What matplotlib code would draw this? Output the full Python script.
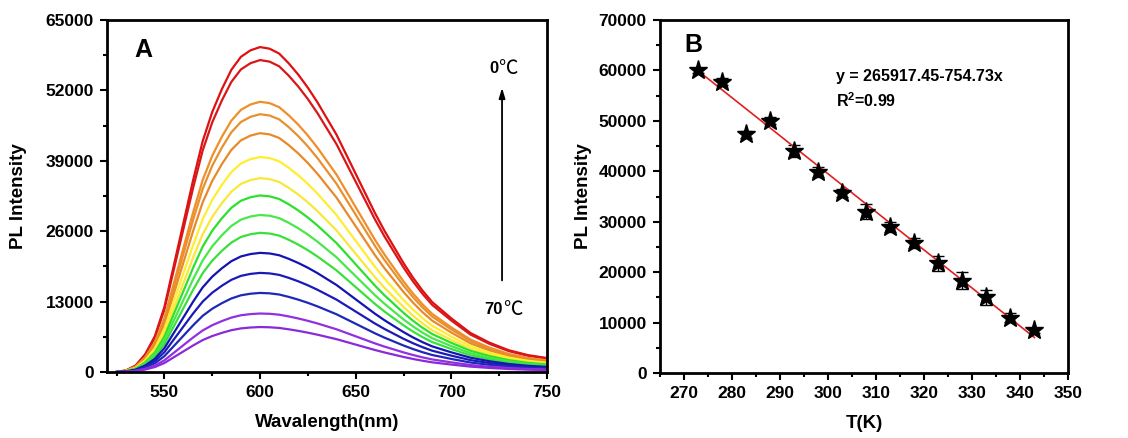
import matplotlib
matplotlib.use("Agg")
import matplotlib.pyplot as plt
import numpy as np
from matplotlib.ticker import MultipleLocator

plt.rcParams['font.family'] = ['Liberation Sans', 'DejaVu Sans']
plt.rcParams['font.weight'] = 'bold'
plt.rcParams['mathtext.fontset'] = 'custom'
plt.rcParams['mathtext.rm'] = 'Liberation Sans'
plt.rcParams['mathtext.bf'] = 'Liberation Sans:bold'

# ---------------- Panel A data ----------------
wavelength = [525, 530, 535, 540, 545, 550, 555, 560, 565, 570, 575, 580, 585, 590,
              595, 600, 605, 610, 615, 620, 625, 630, 635, 640, 645, 650, 655, 660,
              665, 670, 675, 680, 685, 690, 695, 700, 710, 720, 730, 740, 750]
profile = [0.0, 0.005, 0.02, 0.055, 0.11, 0.20, 0.33, 0.46, 0.59, 0.71, 0.80, 0.87,
           0.93, 0.97, 0.99, 1.0, 0.995, 0.98, 0.95, 0.915, 0.875, 0.83, 0.78, 0.73,
           0.67, 0.61, 0.55, 0.49, 0.435, 0.385, 0.335, 0.29, 0.25, 0.215, 0.19,
           0.165, 0.12, 0.09, 0.067, 0.052, 0.043]
peak_intensity = [60000, 57600, 49900, 47600, 44100, 39700, 35800, 32600, 29000,
                  25700, 22000, 18300, 14600, 10800, 8300]
curve_colors = ['#e01010', '#d81818', '#f08e2a', '#e8902e', '#e88a28', '#ffee30',
                '#f8e838', '#2ee02e', '#48e848', '#3ae03a', '#1414b4', '#1a1ab8',
                '#1e28b8', '#9030e0', '#8a2ad8']

# ---------------- Panel B data ----------------
temperature_K = [273, 278, 283, 288, 293, 298, 303, 308, 313, 318, 323, 328, 333, 338, 343]
pl_intensity = [60000, 57800, 47300, 50000, 44000, 39800, 35700, 32000, 28900, 25700,
                21800, 18300, 15000, 11000, 8500]
pl_error = [500, 600, 700, 700, 1200, 1000, 800, 1500, 1000, 1000, 1500, 1700, 1500,
            800, 500]
fit_intercept = 265917.45
fit_slope = -754.73

fig = plt.figure(figsize=(11.28, 4.38), dpi=100)
axA = fig.add_axes([107/1128, 66/438, 440/1128, 352/438])
axB = fig.add_axes([660/1128, 65/438, 408/1128, 353/438])

def style(ax):
    for s in ax.spines.values():
        s.set_linewidth(2.0)
    ax.tick_params(which='both', direction='out', width=1.5, top=False, right=False,
                   labelsize=12.5, pad=4.5)
    ax.tick_params(which='major', length=5)
    ax.tick_params(which='minor', length=3)
    for lab in ax.get_xticklabels() + ax.get_yticklabels():
        lab.set_fontweight('bold')

# Panel A
wl = np.array(wavelength)
prof = np.array(profile)
for pk, c in zip(peak_intensity, curve_colors):
    axA.plot(wl, prof * pk, color=c, lw=1.6)
axA.set_xlim(520, 750)
axA.set_ylim(0, 65000)
axA.xaxis.set_major_locator(MultipleLocator(50))
axA.xaxis.set_minor_locator(MultipleLocator(25))
axA.yaxis.set_major_locator(MultipleLocator(13000))
axA.yaxis.set_minor_locator(MultipleLocator(6500))
style(axA)
axA.set_xlabel('Wavalength(nm)', fontsize=13.5, fontweight='bold', labelpad=10)
axA.set_ylabel('PL Intensity', fontsize=13.5, fontweight='bold', labelpad=13)
axA.text(538.8, 59500, 'A', fontsize=18, fontweight='bold', ha='center', va='center')
axA.annotate('', xy=(726.5, 53000), xytext=(726.5, 16400),
             arrowprops=dict(arrowstyle='-|>,head_length=0.6,head_width=0.18',
                             color='black', lw=1.3))
axA.text(724.6, 56000, '0', fontsize=12, fontweight='bold', ha='right', va='center')
axA.text(724.6, 56000, '℃', fontsize=14, fontweight='normal', ha='left', va='center',
         family=['Noto Sans CJK SC', 'DejaVu Sans'])
axA.text(727.0, 11450, '70', fontsize=12, fontweight='bold', ha='right', va='center')
axA.text(727.0, 11450, '℃', fontsize=14, fontweight='normal', ha='left', va='center',
         family=['Noto Sans CJK SC', 'DejaVu Sans'])

# Panel B
T = np.array(temperature_K)
axB.errorbar(T, pl_intensity, yerr=pl_error, fmt='none', ecolor='black',
             elinewidth=1.0, capsize=4, capthick=1.0)
axB.plot(T, fit_intercept + fit_slope * T, color='#e02020', lw=1.2)
axB.plot(T, pl_intensity, ls='none', marker='*', ms=14, color='black', zorder=5)
axB.set_xlim(265, 350)
axB.set_ylim(0, 70000)
axB.xaxis.set_major_locator(MultipleLocator(10))
axB.xaxis.set_minor_locator(MultipleLocator(5))
axB.yaxis.set_major_locator(MultipleLocator(10000))
axB.yaxis.set_minor_locator(MultipleLocator(5000))
style(axB)
axB.set_xlabel('T(K)', fontsize=13.5, fontweight='bold', labelpad=10)
axB.set_ylabel('PL Intensity', fontsize=13.5, fontweight='bold', labelpad=5)
axB.text(271.9, 65000, 'B', fontsize=18, fontweight='bold', ha='center', va='center')
axB.text(301.7, 58700, 'y = 265917.45-754.73x', fontsize=11.5, fontweight='bold',
         ha='left', va='center')
axB.text(301.7, 54100, r'R$^{\mathbf{2}}$=0.99', fontsize=11.5, fontweight='bold',
         ha='left', va='center')

fig.savefig('out.png', dpi=100)
